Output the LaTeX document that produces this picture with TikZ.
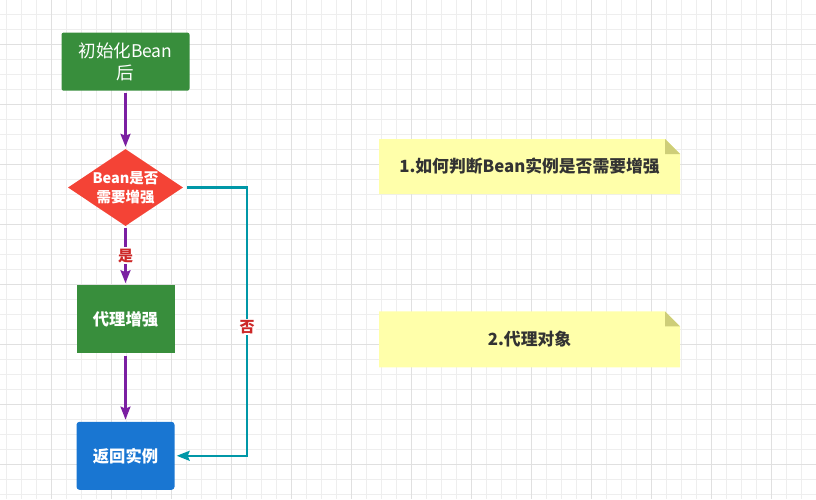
\documentclass[tikz,border=0pt]{standalone}
\usepackage{fontspec}
\setmainfont{Noto Sans CJK SC}
\usetikzlibrary{arrows.meta,positioning,shapes.geometric}
\definecolor{boxgreen}{RGB}{56,142,60}
\definecolor{decred}{RGB}{244,67,54}
\definecolor{retblue}{RGB}{25,118,210}
\definecolor{flowpurple}{RGB}{123,31,162}
\definecolor{noteal}{RGB}{0,151,167}
\definecolor{lblred}{RGB}{205,40,40}
\definecolor{notefill}{RGB}{255,255,170}
\definecolor{notefold}{RGB}{206,206,120}
\definecolor{notetext}{RGB}{51,51,51}
\definecolor{gridminor}{RGB}{238,238,238}
\definecolor{gridmajor}{RGB}{224,224,224}
\tikzset{
  startbox/.style={fill=boxgreen,rounded corners=2pt,text=white,align=center,
              font=\fontsize{17.5}{22}\selectfont,minimum width=128pt,minimum height=58pt,inner sep=0pt},
  decbox/.style={diamond,fill=decred,text=white,align=center,inner sep=-4pt,
              font=\bfseries\fontsize{14.5}{19}\selectfont,minimum width=115pt,minimum height=77pt,aspect=1.5},
  actbox/.style={fill=boxgreen,text=white,font=\bfseries\fontsize{16.3}{18}\selectfont,
              minimum width=98pt,minimum height=68pt,inner sep=0pt},
  retbox/.style={actbox,fill=retblue,rounded corners=3pt},
  notebox/.style={minimum width=301pt,minimum height=55pt,inner sep=0pt,text=notetext,
              font=\bfseries\fontsize{16.8}{18}\selectfont,
              path picture={
                \fill[notefill] (path picture bounding box.south west)
                  -- (path picture bounding box.north west)
                  -- ([xshift=-15pt]path picture bounding box.north east)
                  -- ([yshift=-15pt]path picture bounding box.north east)
                  -- (path picture bounding box.south east) -- cycle;
                \fill[notefold] ([xshift=-15pt]path picture bounding box.north east)
                  -- ([xshift=-15pt,yshift=-15pt]path picture bounding box.north east)
                  -- ([yshift=-15pt]path picture bounding box.north east) -- cycle;}},
  flow/.style ={-{Stealth[length=13pt,width=10pt,inset=2pt]},line width=2.2pt,flowpurple,
              shorten <=2pt,shorten >=2pt},
  noflow/.style={-{Stealth[length=13pt,width=10pt,inset=2pt]},line width=2.2pt,noteal,
              shorten <=4pt,shorten >=2pt},
  yn/.style={fill=white,text=lblred,font=\bfseries\fontsize{15}{17}\selectfont,inner sep=1.5pt},
}

\begin{document}
\begin{tikzpicture}[x=1pt,y=-1pt]
  \useasboundingbox (0,0) rectangle (816,499);
  % grid
  \foreach \gx in {6,21,...,816} \draw[gridminor,line width=.8pt] (\gx,0) -- (\gx,499);
  \foreach \gy in {-1,14,...,499} \draw[gridminor,line width=.8pt] (0,\gy) -- (816,\gy);
  \foreach \gx in {51,111,...,816} \draw[gridmajor,line width=.8pt] (\gx,0) -- (\gx,499);
  \foreach \gy in {44,104,...,499} \draw[gridmajor,line width=.8pt] (0,\gy) -- (816,\gy);

  \node[decbox] (dec) at (125.5,187.5) {Bean是否\\需要增强};
  \node[startbox] (init) [above=58pt of dec] {初始化Bean\\后};
  \node[actbox] (proxy) [below=59pt of dec] {代理增强};
  \node[retbox] (ret) [below=68pt of proxy] {返回实例};

  \node[notebox] (qnote) at (529.5,166.5) {1.如何判断Bean实例是否需要增强};
  \node[notebox,minimum height=56pt] (pnote) [below=117pt of qnote] {2.代理对象};

  \draw[flow] (init) -- (dec);
  \draw[flow] (dec) -- node[yn,pos=.5]{是} (proxy);
  \draw[flow] (proxy) -- (ret);
  \draw[noflow] (dec.east) -- ++(64,0) |- node[yn,pos=.26]{否} (ret.east);
\end{tikzpicture}
\end{document}
